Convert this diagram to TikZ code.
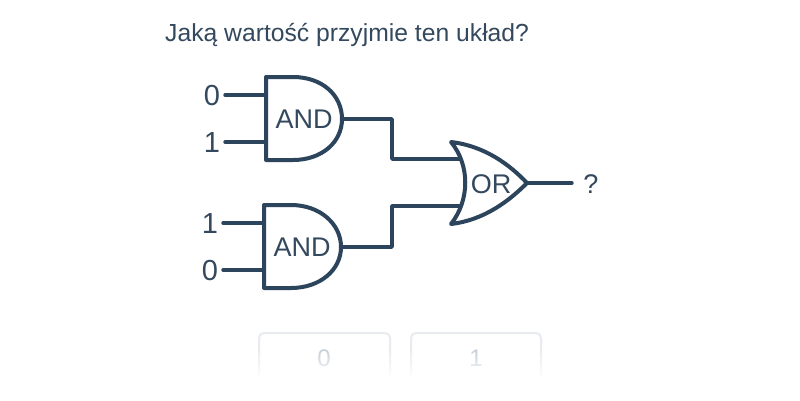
\documentclass[tikz,border=0pt]{standalone}
\usepackage{fontspec}
\setmainfont{Liberation Sans}
\usetikzlibrary{fadings}
\definecolor{ink}{HTML}{2C445C}
\definecolor{txt}{HTML}{34495E}
\definecolor{btn}{HTML}{E8EBEF}
\definecolor{btntxt}{HTML}{C3CCD6}
\tikzset{
  wire/.style={draw=ink,line width=3.4pt,line cap=round,line join=round},
  gate/.style={draw=ink,line width=4pt,line join=round,fill=white},
  lbl/.style={text=txt,font=\fontsize{29}{29}\selectfont,inner sep=0pt,anchor=center},
  gatelbl/.style={text=txt,font=\fontsize{27}{27}\selectfont,inner sep=0pt,anchor=center},
  title/.style={text=txt,font=\fontsize{24.7}{29}\selectfont,inner sep=0pt,anchor=west},
  btnbox/.style={draw=btn,line width=2pt,rounded corners=5pt},
  btnlbl/.style={text=btntxt,font=\fontsize{24}{24}\selectfont,inner sep=0pt}
}
\begin{document}
\begin{tikzpicture}[x=1pt,y=-1pt]
\useasboundingbox[fill=white] (0,0) rectangle (800,400);
\node[title] (q) at (165,35) {Jaką wartość przyjmie ten układ?};
% anchors
\coordinate (a1i1) at (266,95); \coordinate (a1i2) at (266,142);
\coordinate (a1o) at (342,119);
\coordinate (a2i1) at (264,223); \coordinate (a2i2) at (264,270);
\coordinate (a2o) at (341,247);
\coordinate (oi1) at (462,159); \coordinate (oi2) at (462,206);
\coordinate (oo) at (527,183);
\coordinate (e1) at (392,119); \coordinate (e2) at (392,247);
\coordinate (c1) at (392,159); \coordinate (c2) at (392,206);
\coordinate (s1) at (225,95); \coordinate (s2) at (225,142);
\coordinate (s3) at (223,223); \coordinate (s4) at (223,270);
\coordinate (s5) at (572,183);
% values
\node[lbl] (v1) at (212,96) {0};
\node[lbl] (v2) at (212,143) {1};
\node[lbl] (v3) at (210,224) {1};
\node[lbl] (v4) at (210,271) {0};
\node[gatelbl] (res) at (591,184) {?};
\draw[wire] (s1) -- (a1i1);
\draw[wire] (s2) -- (a1i2);
\draw[wire] (s3) -- (a2i1);
\draw[wire] (s4) -- (a2i2);
% connectors
\draw[wire] (a1o) -- (e1) -- (c1) -- (oi1);
\draw[wire] (a2o) -- (e2) -- (c2) -- (oi2);
\draw[wire] (oo) -- (s5);
% gates
\path[gate] (266,77) -- (293,77) .. controls (322,77) and (342,95) .. (342,119) .. controls (342,142) and (322,160) .. (293,160) -- (266,160) -- cycle;
\path[gate] (264,205) -- (291,205) .. controls (320,205) and (341,224) .. (341,247) .. controls (341,270) and (320,288) .. (291,288) -- (264,288) -- cycle;
\path[gate] (451,142) .. controls (485,146) and (510,165) .. (527,183) .. controls (510,200) and (485,220) .. (451,224) .. controls (470,200) and (470,165) .. (451,142) -- cycle;
\node[gatelbl] (and1) at (304,119) {AND};
\node[gatelbl] (and2) at (302,247) {AND};
\node[gatelbl] (or) at (491,184) {OR};
% answer buttons
\draw[btnbox] (259,378) -- (259,333) -- (390,333) -- (390,378);
\draw[btnbox] (411,378) -- (411,333) -- (541,333) -- (541,378);
\node[btnlbl] (b0) at (324,358) {0};
\node[btnlbl] (b1) at (476,358) {1};
\fill[white,path fading=south,fading angle=180] (250,348) rectangle (550,380);
\fill[white] (250,378) rectangle (550,400);
\end{tikzpicture}
\end{document}
